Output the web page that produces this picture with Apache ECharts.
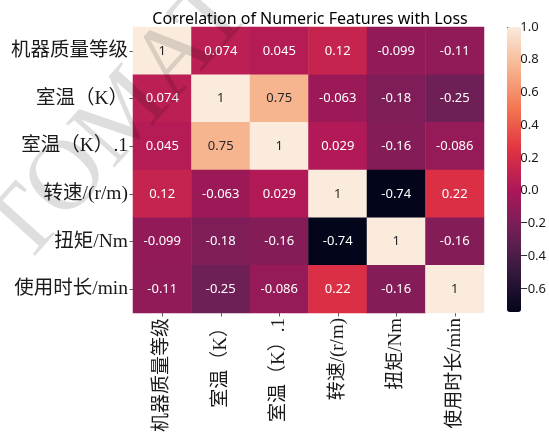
<!DOCTYPE html>
<html><head><meta charset="utf-8">
<script src="https://cdn.jsdelivr.net/npm/echarts@6/dist/echarts.min.js"></script>
<style>html,body{margin:0;padding:0;background:#fff}#c{width:549px;height:441px}</style>
</head><body><div id="c"></div>
<script>
const features = ['机器质量等级', '室温（K）', '室温（K）.1', '转速/(r/m)', '扭矩/Nm', '使用时长/min'];
const row0 = [1, 0.074, 0.045, 0.12, -0.099, -0.11];
const row1 = [0.074, 1, 0.75, -0.063, -0.18, -0.25];
const row2 = [0.045, 0.75, 1, 0.029, -0.16, -0.086];
const row3 = [0.12, -0.063, 0.029, 1, -0.74, 0.22];
const row4 = [-0.099, -0.18, -0.16, -0.74, 1, -0.16];
const row5 = [-0.11, -0.25, -0.086, 0.22, -0.16, 1];
const colorbarTicks = [-0.6, -0.4, -0.2, 0.0, 0.2, 0.4, 0.6, 0.8, 1.0];
const vmin = -0.74, vmax = 1.0;
const rocket = ['#03051A', '#35193E', '#701F57', '#AD1759', '#E13342', '#F37651', '#F6B48F', '#FAEBDD'];
const titleText = 'Correlation of Numeric Features with Loss';
const watermark = 'TOMATO';

const rows = [row0, row1, row2, row3, row4, row5];
const data = [];
rows.forEach((r, ri) => r.forEach((v, ci) => {
  const t = (v - vmin) / (vmax - vmin);
  data.push({ value: [ci, ri, v], label: { color: t > 0.75 ? '#262626' : '#ffffff' } });
}));

const serif = '"Liberation Serif", "Noto Sans CJK SC", serif';
const chart = echarts.init(document.getElementById('c'), null, { renderer: 'canvas' });
chart.setOption({
  animation: false,
  backgroundColor: '#fff',
  title: {
    text: titleText, left: 305, top: 6, textAlign: 'center',
    textStyle: { fontFamily: '"Noto Sans", sans-serif', fontSize: 16, fontWeight: 'normal', color: '#000' }
  },
  graphic: [{
    type: 'text', x: 5, y: 250, rotation: 48 * Math.PI / 180, silent: true, z: 100,
    style: { text: watermark, font: '100px "Liberation Serif"', fill: 'rgba(0,0,0,0.13)', textVerticalAlign: 'middle' }
  }],
  grid: [
    { left: 133, top: 27, width: 351, height: 286 },
    { left: 507, top: 27, width: 14, height: 285 }
  ],
  xAxis: [
    {
      type: 'category', data: features, gridIndex: 0,
      axisLine: { show: false }, splitLine: { show: false },
      axisTick: { show: true, alignWithLabel: true, length: 3.5, lineStyle: { color: '#333', width: 0.8 } },
      axisLabel: { rotate: 90, interval: 0, margin: 5, fontSize: 19, fontFamily: serif, color: '#1a1a1a' }
    },
    { type: 'value', gridIndex: 1, show: false, min: 0, max: 1 }
  ],
  yAxis: [
    {
      type: 'category', data: features, gridIndex: 0, inverse: true,
      axisLine: { show: false }, splitLine: { show: false },
      axisTick: { show: true, alignWithLabel: true, length: 3.5, lineStyle: { color: '#333', width: 0.8 } },
      axisLabel: { interval: 0, margin: 5, fontSize: 19.5, fontFamily: serif, color: '#1a1a1a' }
    },
    {
      type: 'value', gridIndex: 1, min: vmin, max: vmax, position: 'right',
      axisLine: { show: false }, splitLine: { show: false },
      axisTick: { show: true, customValues: colorbarTicks, length: 3, lineStyle: { color: '#333', width: 0.8 } },
      axisLabel: {
        customValues: colorbarTicks, margin: 2, fontSize: 13, color: '#1a1a1a',
        fontFamily: '"Noto Sans", sans-serif',
        formatter: v => (v < 0 ? '\u2212' : '') + Math.abs(v).toFixed(1)
      }
    }
  ],
  visualMap: {
    type: 'continuous', min: vmin, max: vmax, seriesIndex: 0, calculable: false,
    inRange: { color: rocket }, left: 507, top: 27, itemWidth: 14, itemHeight: 285,
    padding: 0, text: ['', ''], showLabel: false, orient: 'vertical', hoverLink: false
  },
  series: [
    {
      type: 'heatmap', xAxisIndex: 0, yAxisIndex: 0, data: data,
      label: {
        show: true, fontSize: 13, fontFamily: '"Noto Sans", sans-serif',
        formatter: p => String(p.value[2])
      },
      emphasis: { disabled: true }
    },
    { type: 'scatter', xAxisIndex: 1, yAxisIndex: 1, data: [] }
  ]
});
</script></body></html>
